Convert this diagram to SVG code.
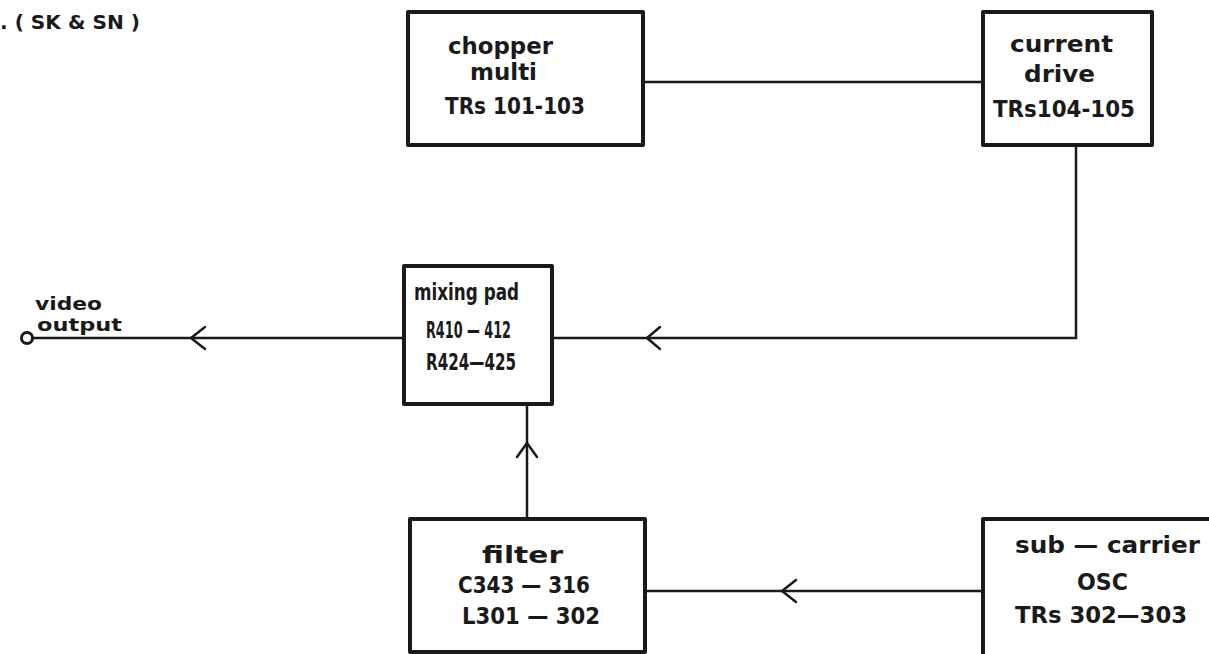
<svg xmlns="http://www.w3.org/2000/svg" width="1209" height="654" viewBox="0 0 1209 654">
<style>
.box{fill:#fff;stroke:#1a1a1a;stroke-width:4;stroke-linejoin:round}
.ln{fill:none;stroke:#1a1a1a;stroke-width:2.5}
.ar{fill:none;stroke:#1a1a1a;stroke-width:2.5;stroke-linecap:round;stroke-linejoin:round}
text{font-family:"DejaVu Sans","Liberation Sans",sans-serif;font-weight:bold;font-size:23px;fill:#1a1a1a}
.sm{font-size:20px}
.vo{font-size:17px}
</style>
<rect width="1209" height="654" fill="#fff"/>
<text x="0" y="29" class="sm" textLength="140" lengthAdjust="spacingAndGlyphs">. ( SK &amp; SN )</text>
<g id="connectors">
<line class="ln" x1="643" y1="82" x2="983" y2="82"/>
<polyline class="ln" points="1076,145 1076,338 552,338"/>
<path class="ar" d="M660,327 L647,338 L660,349"/>
<line class="ln" x1="32" y1="338" x2="405" y2="338"/>
<path class="ar" d="M205,327 L191,338 L205,349"/>
<circle cx="27" cy="338" r="5.5" fill="#fff" stroke="#1a1a1a" stroke-width="3"/>
<line class="ln" x1="527" y1="519" x2="527" y2="404"/>
<path class="ar" d="M517,457 L527,443 L537,457"/>
<line class="ln" x1="645" y1="591" x2="983" y2="591"/>
<path class="ar" d="M796,580 L782,591 L796,602"/>
</g>
<g id="chopper">
<rect class="box" x="408" y="12" width="235" height="133"/>
<text x="448" y="54" textLength="105" lengthAdjust="spacingAndGlyphs">chopper</text>
<text x="470" y="80" textLength="67" lengthAdjust="spacingAndGlyphs">multi</text>
<text x="445" y="114" textLength="140" lengthAdjust="spacingAndGlyphs">TRs 101-103</text>
</g>
<g id="current">
<rect class="box" x="983" y="12" width="169" height="133"/>
<text x="1010" y="52" textLength="103" lengthAdjust="spacingAndGlyphs">current</text>
<text x="1024" y="82" textLength="71" lengthAdjust="spacingAndGlyphs">drive</text>
<text x="993" y="117" textLength="142" lengthAdjust="spacingAndGlyphs">TRs104-105</text>
</g>
<g id="mixing">
<rect class="box" x="404" y="266" width="148" height="138"/>
<text x="414" y="300" textLength="105" lengthAdjust="spacingAndGlyphs">mixing  pad</text>
<text x="426" y="338" textLength="85" lengthAdjust="spacingAndGlyphs">R410 — 412</text>
<text x="426" y="370" textLength="90" lengthAdjust="spacingAndGlyphs">R424—425</text>
</g>
<g id="video">
<text x="35" y="310" class="vo" textLength="67" lengthAdjust="spacingAndGlyphs">video</text>
<text x="37" y="331" class="vo" textLength="85" lengthAdjust="spacingAndGlyphs">output</text>
</g>
<g id="filter">
<rect class="box" x="410" y="519" width="235" height="133"/>
<text x="482" y="563" textLength="81" lengthAdjust="spacingAndGlyphs">filter</text>
<text x="458" y="593" textLength="132" lengthAdjust="spacingAndGlyphs">C343 — 316</text>
<text x="462" y="624" textLength="138" lengthAdjust="spacingAndGlyphs">L301 — 302</text>
</g>
<g id="subcarrier">
<rect class="box" x="983" y="519" width="260" height="160"/>
<text x="1015" y="553" textLength="185" lengthAdjust="spacingAndGlyphs">sub — carrier</text>
<text x="1077" y="590" textLength="51" lengthAdjust="spacingAndGlyphs">OSC</text>
<text x="1015" y="623" textLength="172" lengthAdjust="spacingAndGlyphs">TRs 302—303</text>
</g>
</svg>
